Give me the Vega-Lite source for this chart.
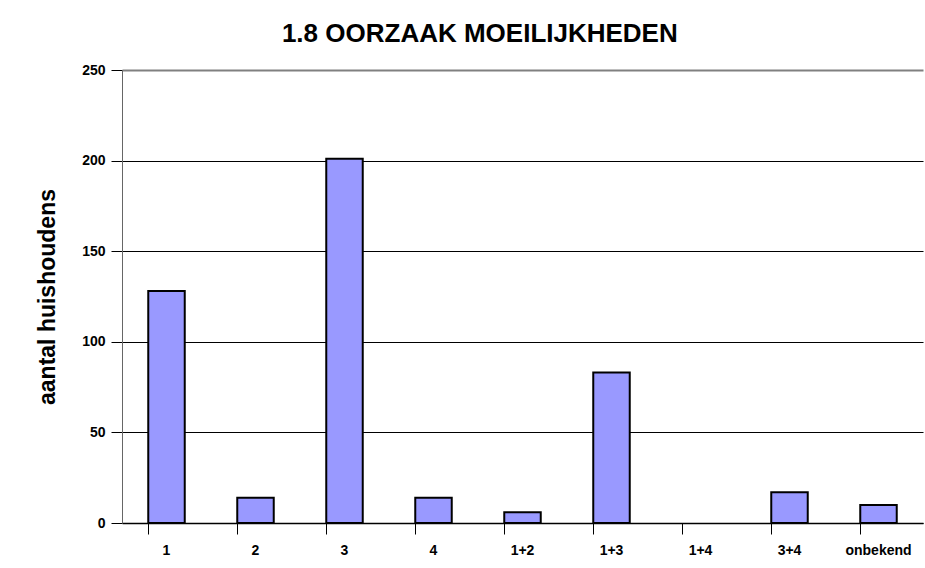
{
  "$schema": "https://vega.github.io/schema/vega-lite/v6.json",
  "width": 801,
  "height": 453,
  "autosize": {"type": "none"},
  "padding": {"left": 122, "top": 70, "right": 2, "bottom": 45},
  "background": "white",
  "title": {
    "text": "1.8 OORZAAK MOEILIJKHEDEN",
    "font": "Liberation Sans",
    "fontSize": 26,
    "fontWeight": "bold",
    "color": "black",
    "anchor": "middle",
    "frame": "bounds",
    "offset": 16
  },
  "data": {
    "values": [
      {"oorzaak": "1", "aantal": 128},
      {"oorzaak": "2", "aantal": 14},
      {"oorzaak": "3", "aantal": 201},
      {"oorzaak": "4", "aantal": 14},
      {"oorzaak": "1+2", "aantal": 6},
      {"oorzaak": "1+3", "aantal": 83},
      {"oorzaak": "1+4", "aantal": 0},
      {"oorzaak": "3+4", "aantal": 17},
      {"oorzaak": "onbekend", "aantal": 10}
    ]
  },
  "mark": {"type": "bar", "fill": "#9999FF", "stroke": "black", "strokeWidth": 2},
  "encoding": {
    "x": {
      "field": "oorzaak",
      "type": "nominal",
      "sort": null,
      "scale": {"paddingInner": 0.59, "paddingOuter": 0.295},
      "axis": {
        "title": null,
        "labelAngle": 0,
        "labelFont": "Liberation Sans",
        "labelFontSize": 14,
        "labelFontWeight": "bold",
        "labelColor": "black",
        "labelPadding": 9,
        "bandPosition": 0,
        "tickSize": 11,
        "tickColor": "black",
        "domainColor": "black",
        "domainWidth": 1.5,
        "grid": false
      }
    },
    "y": {
      "field": "aantal",
      "type": "quantitative",
      "scale": {"domain": [0, 250], "nice": false},
      "axis": {
        "title": "aantal huishoudens",
        "titleFont": "Liberation Sans",
        "titleFontSize": 23,
        "titleFontWeight": "bold",
        "titleColor": "black",
        "titlePadding": 22,
        "values": [0, 50, 100, 150, 200, 250],
        "labelFont": "Liberation Sans",
        "labelFontSize": 14,
        "labelFontWeight": "bold",
        "labelColor": "black",
        "labelPadding": 6,
        "tickSize": 11,
        "tickColor": "black",
        "domainColor": "#666666",
        "grid": true,
        "gridColor": {"condition": {"test": "datum.value == 250", "value": "#808080"}, "value": "black"},
        "gridWidth": {"condition": {"test": "datum.value == 250", "value": 2}, "value": 1},
        "gridOpacity": 1
      }
    },
    "strokeOpacity": {"condition": {"test": "datum.aantal == 0", "value": 0}, "value": 1}
  },
  "config": {"view": {"stroke": null}}
}
